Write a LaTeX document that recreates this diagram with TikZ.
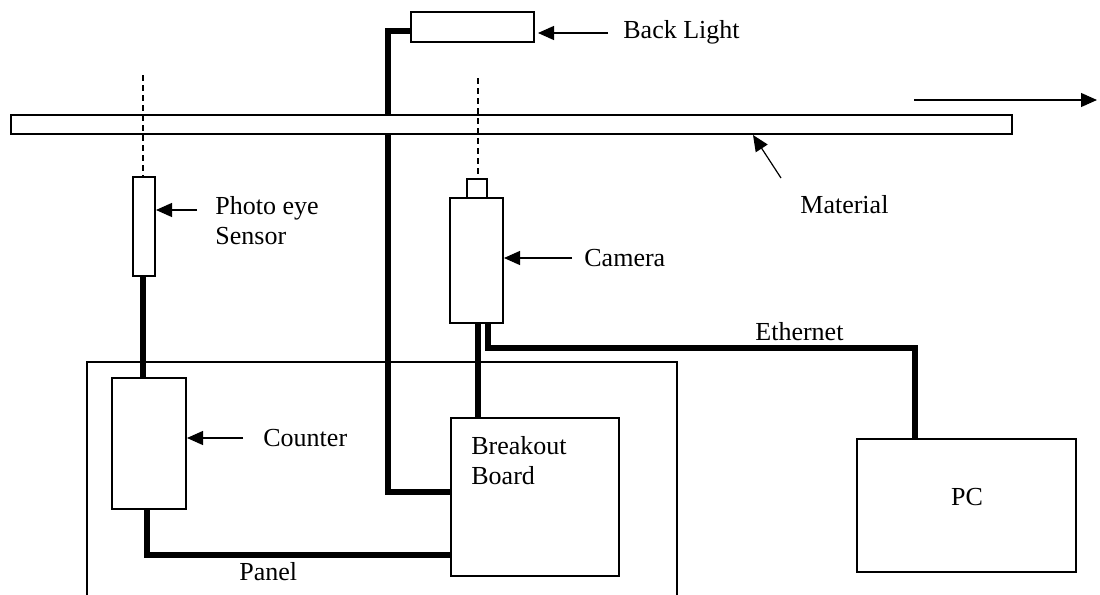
\documentclass[tikz,border=0pt]{standalone}
\usepackage{fontspec}
\setmainfont{Liberation Serif}
\usetikzlibrary{arrows.meta}
\begin{document}
\begin{tikzpicture}[x=0.5pt,y=-0.5pt,
  box/.style={draw,line width=0.75pt,inner sep=0pt,outer sep=0pt,fill=white},
  wire/.style={line width=2.6pt},
  pointer/.style={line width=0.6pt,-{Triangle[length=8pt,width=7pt]}},
  beam/.style={line width=0.55pt,dash pattern=on 3pt off 2pt},
  lbl/.style={font=\fontsize{13}{15}\selectfont,inner sep=0pt,anchor=west,align=left}]
\useasboundingbox (0,0) rectangle (1100,595);
% panel (open at the bottom edge)
\draw[line width=0.6pt] (87,595) -- (87,362) -- (677,362) -- (677,595);
% boxes
\node[box,minimum width=61.5pt,minimum height=15pt] (backlight) at (472.5,27) {};
\node[box,minimum width=11pt,minimum height=49.5pt] (sensor) at (144,226.5) {};
\node[box,minimum width=10pt,minimum height=9.5pt] (lens) at (477,188.5) {};
\node[box,minimum width=26.5pt,minimum height=62.5pt] (camera) at (476.5,260.5) {};
\node[box,minimum width=37pt,minimum height=65.5pt] (counter) at (149,443.5) {};
\node[box,minimum width=84pt,minimum height=79pt] (breakout) at (535,497) {};
\node[box,minimum width=109.5pt,minimum height=66.5pt] (pc) at (966.5,505.5) {};
% wire coordinates
\coordinate (blc) at (388,492);
\coordinate (blt) at (388,31);
\coordinate (sw) at (143,300);
\coordinate (cw) at (147,555);
\coordinate (camw) at (478,380);
\coordinate (eth) at (488,348);
\coordinate (pcin) at (915,400);
% wires
\draw[wire] (blt -| backlight.west) -- (blt) -- (blc) -- (blc -| breakout.west);
\draw[wire] (sw |- sensor.south) -- (sw |- counter.north);
\draw[wire] (cw |- counter.south) -- (cw) -- (cw -| breakout.west);
\draw[wire] (camw |- camera.south) -- (camw |- breakout.north);
\draw[wire] (eth |- camera.south) -- (eth) -| (pcin |- pc.north);
% material (drawn over the back light wire)
\node[box,minimum width=500.5pt,minimum height=9.5pt] (material) at (511.5,124.5) {};
% beams
\coordinate (b1) at (143,75);
\coordinate (b2) at (478,78);
\draw[beam] (b1) -- (b1 |- sensor.north);
\draw[beam] (b2) -- (b2 |- lens.north);
% labels
\node[lbl] (lblback) at (623,32) {Back Light};
\node[lbl] (lblphoto) at (215,221) {Photo eye\\Sensor};
\node[lbl] (lblcam) at (584,258) {Camera};
\node[lbl] (lblmat) at (800,205) {Material};
\node[lbl] (lbleth) at (755,332) {Ethernet};
\node[lbl] (lblcount) at (263,438) {Counter};
\node[lbl] (lblpanel) at (239,572) {Panel};
\node[lbl] (lblbreak) at (471,461) {Breakout\\Board};
\node[font=\fontsize{13}{15}\selectfont,inner sep=0pt] (lblpc) at (967,497) {PC};
% pointers
\coordinate (pb) at (608,33);
\coordinate (pp) at (197,210);
\coordinate (pcam) at (572,258);
\coordinate (pcnt) at (243,438);
\draw[pointer] (pb) -- ([xshift=2pt]pb -| backlight.east);
\draw[pointer] (pp) -- ([xshift=0.5pt]pp -| sensor.east);
\draw[pointer] (pcam) -- ([xshift=0.5pt]pcam -| camera.east);
\draw[pointer] (pcnt) -- ([xshift=0.5pt]pcnt -| counter.east);
\coordinate (pm) at (781,178);
\draw[pointer] (pm) -- (753,135);
\coordinate (mv) at (914,100);
\draw[pointer] (mv) -- (1097,100);
\end{tikzpicture}
\end{document}
